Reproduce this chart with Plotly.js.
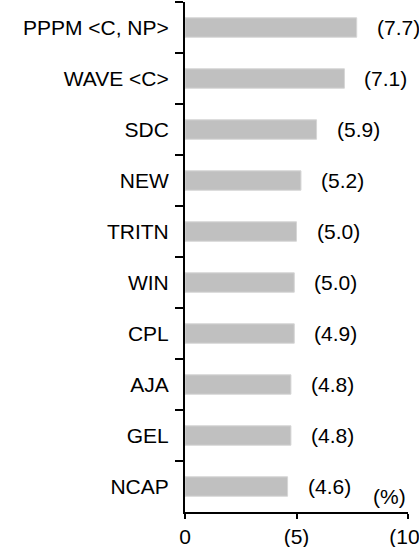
<!DOCTYPE html>
<html>
<head>
<meta charset="utf-8">
<script src="https://cdn.plot.ly/plotly-3.0.1.min.js"></script>
<style>html,body{margin:0;padding:0;background:#fff;}#chart{width:419px;height:547px;}</style>
</head>
<body>
<div id="chart"></div>
<script>
var categories = ["PPPM <C, NP>", "WAVE <C>", "SDC", "NEW", "TRITN", "WIN", "CPL", "AJA", "GEL", "NCAP"];
var values = [7.7, 7.15, 5.9, 5.2, 5.0, 4.9, 4.9, 4.75, 4.75, 4.6];
var valueLabels = ["(7.7)", "(7.1)", "(5.9)", "(5.2)", "(5.0)", "(5.0)", "(4.9)", "(4.8)", "(4.8)", "(4.6)"];
var xTickVals = [0, 5, 10];
var xTickText = ["0", "(5)", "(10)"];
var unitLabel = "(%)";

var fontFam = "Liberation Sans, Arial, sans-serif";
var fs = 21;
var trace = {
  type: "bar",
  orientation: "h",
  y: categories,
  x: values,
  marker: {color: "#c0c0c0", line: {color: "#d6d6d6", width: 1}},
  hoverinfo: "none"
};
var annotations = categories.map(function(c, i) {
  return {x: values[i], y: c, xref: "x", yref: "y", text: valueLabels[i], showarrow: false,
          xanchor: "left", yanchor: "middle", xshift: 18, font: {family: fontFam, size: fs, color: "#000"}};
});
annotations.push({x: 1, y: 0, xref: "paper", yref: "paper", text: unitLabel, showarrow: false,
  xanchor: "right", yanchor: "bottom", xshift: 0, yshift: 2, font: {family: fontFam, size: fs, color: "#000"}});

var layout = {
  width: 419, height: 547,
  margin: {l: 185, r: 11, t: 2, b: 35, pad: 0},
  paper_bgcolor: "#fff", plot_bgcolor: "#fff",
  showlegend: false,
  bargap: 0.62,
  font: {family: fontFam, size: fs, color: "#000"},
  xaxis: {range: [0, 10], tickvals: xTickVals, ticktext: xTickText, showgrid: false, zeroline: false,
    showline: true, linecolor: "#000", linewidth: 2, ticks: "outside", ticklen: 5, tickwidth: 2, tickcolor: "#000",
    ticklabeloverflow: "allow", tickfont: {family: fontFam, size: fs}},
  yaxis: {type: "category", autorange: "reversed", showgrid: false, zeroline: false,
    showline: true, linecolor: "#000", linewidth: 2, ticks: "outside", ticklen: 8, tickwidth: 2, tickcolor: "#000",
    tickson: "boundaries", ticklabelstandoff: 10, tickfont: {family: fontFam, size: fs}},
  annotations: annotations
};
Plotly.newPlot("chart", [trace], layout, {displayModeBar: false, staticPlot: true});
</script>
</body>
</html>
